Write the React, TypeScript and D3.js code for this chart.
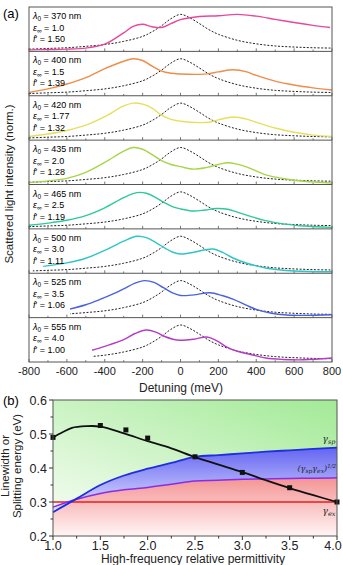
import React from 'react';
import * as d3 from 'd3';

// ---- panel (a): scattering spectra ----
const lambdas = ['370', '400', '420', '435', '465', '500', '525', '555'];
const epsInf = ['1.0', '1.5', '1.77', '2.0', '2.5', '3.0', '3.5', '4.0'];
const fPrime = ['1.50', '1.39', '1.32', '1.28', '1.19', '1.11', '1.06', '1.00'];
const lineColors = ['#e8489c', '#ef8c4a', '#e6df5c', '#a5d647', '#2ec99b', '#2fc4c6', '#4a62e0', '#b43cc6'];
const dashStart = [-800, -800, -800, -800, -800, -780, -583, -467];
const detuningTicks = [-800, -600, -400, -200, 0, 200, 400, 600, 800];

const s370 = [[-800, 0.0], [-700, 0.01], [-600, 0.02], [-500, 0.05], [-400, 0.16], [-300, 0.48], [-250, 0.66], [-200, 0.72], [-150, 0.65], [-100, 0.63], [-50, 0.74], [0, 0.85], [100, 0.94], [200, 0.96], [300, 1.0], [400, 0.95], [500, 0.86], [600, 0.77], [700, 0.69], [790, 0.63]];
const s400 = [[-800, 0.05], [-700, 0.15], [-600, 0.29], [-500, 0.47], [-400, 0.72], [-300, 0.93], [-250, 1.0], [-200, 0.95], [-150, 0.79], [-100, 0.65], [-50, 0.59], [0, 0.57], [100, 0.56], [150, 0.58], [200, 0.63], [280, 0.69], [350, 0.63], [400, 0.53], [500, 0.37], [600, 0.26], [700, 0.18], [800, 0.12]];
const s420 = [[-800, 0.06], [-700, 0.13], [-600, 0.23], [-500, 0.38], [-400, 0.62], [-300, 0.92], [-250, 1.0], [-200, 0.97], [-150, 0.86], [-100, 0.66], [-50, 0.54], [0, 0.49], [100, 0.45], [150, 0.46], [200, 0.53], [280, 0.61], [350, 0.55], [400, 0.46], [500, 0.3], [600, 0.18], [700, 0.1], [800, 0.06]];
const s435 = [[-800, 0.01], [-700, 0.06], [-600, 0.13], [-500, 0.3], [-400, 0.58], [-300, 0.9], [-250, 1.0], [-200, 0.95], [-150, 0.8], [-100, 0.63], [-50, 0.52], [0, 0.46], [70, 0.39], [140, 0.44], [200, 0.52], [250, 0.57], [300, 0.53], [355, 0.44], [450, 0.23], [550, 0.12], [650, 0.05], [800, 0.0]];
const s465 = [[-800, 0.06], [-700, 0.12], [-600, 0.2], [-500, 0.33], [-400, 0.55], [-300, 0.84], [-230, 0.98], [-180, 0.96], [-130, 0.84], [-80, 0.68], [-40, 0.58], [0, 0.52], [70, 0.46], [130, 0.49], [190, 0.53], [250, 0.51], [300, 0.43], [370, 0.31], [450, 0.19], [540, 0.1], [650, 0.04], [800, 0.0]];
const s500 = [[-725, 0.15], [-600, 0.25], [-500, 0.38], [-400, 0.6], [-300, 0.86], [-230, 1.0], [-180, 0.96], [-130, 0.82], [-80, 0.66], [-40, 0.55], [0, 0.5], [70, 0.55], [130, 0.62], [172, 0.64], [220, 0.55], [280, 0.38], [350, 0.24], [455, 0.1], [600, 0.02], [800, 0.0]];
const s525 = [[-583, 0.2], [-500, 0.32], [-425, 0.47], [-350, 0.64], [-300, 0.77], [-240, 0.93], [-190, 1.0], [-140, 0.95], [-90, 0.8], [-40, 0.65], [0, 0.58], [70, 0.6], [155, 0.66], [220, 0.58], [280, 0.47], [350, 0.3], [400, 0.19], [480, 0.08], [560, 0.03], [650, 0.02], [800, 0.04]];
const s555 = [[-467, 0.29], [-400, 0.4], [-303, 0.58], [-240, 0.76], [-180, 0.86], [-130, 0.8], [-90, 0.69], [-40, 0.6], [0, 0.57], [70, 0.6], [140, 0.66], [190, 0.56], [245, 0.38], [300, 0.26], [370, 0.17], [450, 0.07], [540, 0.03], [650, 0.02], [800, 0.07]];
const spectra = [s370, s400, s420, s435, s465, s500, s525, s555];

// uncoupled exciton (dashed)
const exciton = [[-800, 0.02], [-700, 0.04], [-600, 0.06], [-500, 0.1], [-400, 0.15], [-300, 0.24], [-200, 0.38], [-150, 0.51], [-100, 0.68], [-50, 0.88], [0, 1.0], [50, 0.9], [100, 0.74], [150, 0.57], [200, 0.44], [300, 0.27], [400, 0.17], [500, 0.11], [600, 0.08], [700, 0.06], [800, 0.05]];

// ---- panel (b): linewidths / splitting ----
const permittivity = [1.0, 1.25, 1.5, 1.75, 2.0, 2.25, 2.5, 2.75, 3.0, 3.25, 3.5, 3.75, 4.0];
const gammaSp = [0.27, 0.31, 0.35, 0.378, 0.398, 0.415, 0.433, 0.438, 0.443, 0.448, 0.452, 0.456, 0.46];
const gammaMean = [0.285, 0.308, 0.325, 0.336, 0.343, 0.352, 0.362, 0.364, 0.367, 0.368, 0.369, 0.37, 0.371];
const gammaEx = 0.3;
const fitEps = [1.0, 1.1, 1.2, 1.35, 1.5, 1.75, 2.0, 2.25, 2.5, 2.75, 3.0, 3.25, 3.5, 3.75, 4.0];
const fitSplit = [0.49, 0.505, 0.518, 0.523, 0.522, 0.502, 0.479, 0.458, 0.432, 0.41, 0.388, 0.364, 0.341, 0.32, 0.3];
const measEps = [1.0, 1.5, 1.77, 2.0, 2.5, 3.0, 3.5, 4.0];
const measSplit = [0.49, 0.525, 0.512, 0.488, 0.433, 0.387, 0.342, 0.3];
const epsTicks = [1.0, 1.5, 2.0, 2.5, 3.0, 3.5, 4.0];
const energyTicks = [0.2, 0.3, 0.4, 0.5, 0.6];

const FONT = 'Liberation Sans, Arial, sans-serif';

export default function App() {
  const xA = d3.scaleLinear().domain([-800, 800]).range([29, 332]);
  const band = d3.scaleBand<number>().domain(d3.range(8)).range([7, 362]);
  const h = band.bandwidth();

  const xB = d3.scaleLinear().domain([1, 4]).range([53, 337]);
  const yB = d3.scaleLinear().domain([0.2, 0.6]).range([536, 400]);

  const curve = d3.curveCatmullRom.alpha(0.5);
  const idx = d3.range(permittivity.length);
  const areaGreen = d3.area<number>().x(i => xB(permittivity[i])).y0(yB(0.6)).y1(i => yB(gammaSp[i])).curve(d3.curveMonotoneX);
  const areaBlue = d3.area<number>().x(i => xB(permittivity[i])).y0(i => yB(gammaMean[i])).y1(i => yB(gammaSp[i])).curve(d3.curveMonotoneX);
  const areaRed = d3.area<number>().x(i => xB(permittivity[i])).y0(yB(0.2)).y1(i => yB(gammaMean[i])).curve(d3.curveMonotoneX);
  const lineSp = d3.line<number>().x(i => xB(permittivity[i])).y(i => yB(gammaSp[i])).curve(d3.curveMonotoneX);
  const lineMean = d3.line<number>().x(i => xB(permittivity[i])).y(i => yB(gammaMean[i])).curve(d3.curveMonotoneX);
  const lineFit = d3.line<number>().x(i => xB(fitEps[i])).y(i => yB(fitSplit[i])).curve(curve);

  const minorA = d3.range(-700, 800, 200);
  const minorEps = d3.range(1.25, 4, 0.5);
  const minorE = d3.range(0.25, 0.6, 0.1);

  return (
    <svg width={343} height={565} style={{ position: 'absolute', left: 0, top: 0 }} fontFamily={FONT}>
      <defs>
        {d3.range(8).map(i => (
          <clipPath key={i} id={`dc${i}`}>
            <rect x={xA(dashStart[i])} y={band(i)!} width={332 - xA(dashStart[i])} height={h} />
          </clipPath>
        ))}
        <linearGradient id="gGreen" x1="0" y1="1" x2="1" y2="0">
          <stop offset="0" stopColor="#f3fcf0" />
          <stop offset="1" stopColor="#a2ea96" />
        </linearGradient>
        <linearGradient id="gBlue" x1="0" y1="0" x2="0" y2="1">
          <stop offset="0" stopColor="#6464f2" />
          <stop offset="1" stopColor="#e4e4ff" />
        </linearGradient>
        <linearGradient id="gRed" x1="0" y1="0" x2="0" y2="1">
          <stop offset="0" stopColor="#f49494" />
          <stop offset="1" stopColor="#fff5f5" />
        </linearGradient>
      </defs>

      {/* ---------- (a) ---------- */}
      <text x={3} y={18} fontSize={13}>(a)</text>
      {d3.range(8).map(i => {
        const top = band(i)!;
        const bottom = top + h;
        const y = d3.scaleLinear().domain([0, 1]).range([bottom - 1.5, bottom - 37]);
        const line = d3.line<number[]>().x(d => xA(d[0])).y(d => y(d[1])).curve(curve);
        return (
          <g key={i}>
            {detuningTicks.map(t => (
              <line key={t} x1={xA(t)} x2={xA(t)} y1={bottom} y2={bottom - 3} stroke="#555" strokeWidth={0.8} />
            ))}
            {minorA.map(t => (
              <line key={t} x1={xA(t)} x2={xA(t)} y1={bottom} y2={bottom - 1.8} stroke="#555" strokeWidth={0.8} />
            ))}
            <path d={line(exciton) || ''} fill="none" stroke="#222" strokeWidth={1} strokeDasharray="2,1.6" clipPath={`url(#dc${i})`} />
            <path d={line(spectra[i]) || ''} fill="none" stroke={lineColors[i]} strokeWidth={1.4} />
            <text x={33} y={top + 12} fontSize={9}>
              <tspan fontStyle="italic">λ</tspan>
              <tspan fontSize={6.5} dy={2}>0</tspan>
              <tspan dy={-2}>{` = ${lambdas[i]} nm`}</tspan>
            </text>
            <text x={33} y={top + 23.5} fontSize={9}>
              <tspan fontStyle="italic">ε</tspan>
              <tspan fontSize={6.5} dy={2}>∞</tspan>
              <tspan dy={-2}>{` = ${epsInf[i]}`}</tspan>
            </text>
            <text x={33} y={top + 35} fontSize={9}>
              <tspan fontStyle="italic">f</tspan>
              <tspan>{`′ = ${fPrime[i]}`}</tspan>
            </text>
            {i < 7 && <line x1={29} x2={332} y1={bottom} y2={bottom} stroke="#555" strokeWidth={1} />}
          </g>
        );
      })}
      <rect x={29} y={7} width={303} height={355} fill="none" stroke="#555" strokeWidth={1} />
      {detuningTicks.map(t => (
        <text key={t} x={xA(t)} y={375} fontSize={11} textAnchor="middle" fill="#222">{t}</text>
      ))}
      <text x={181} y={392} fontSize={12} textAnchor="middle" fill="#222">Detuning (meV)</text>
      <text transform="translate(13,184) rotate(-90)" fontSize={11.5} textAnchor="middle" fill="#222">
        Scattered light intensity (norm.)
      </text>

      {/* ---------- (b) ---------- */}
      <path d={areaGreen(idx) || ''} fill="url(#gGreen)" />
      <path d={areaRed(idx) || ''} fill="url(#gRed)" />
      <path d={areaBlue(idx) || ''} fill="url(#gBlue)" />
      <line x1={xB(1)} x2={xB(4)} y1={yB(gammaEx)} y2={yB(gammaEx)} stroke="#ee1c1c" strokeWidth={1.5} />
      <path d={lineMean(idx) || ''} fill="none" stroke="#8a2be8" strokeWidth={1.5} />
      <path d={lineSp(idx) || ''} fill="none" stroke="#1f2ee0" strokeWidth={1.8} />
      <path d={lineFit(d3.range(fitEps.length)) || ''} fill="none" stroke="#111" strokeWidth={1.8} />
      {measEps.map((e, i) => (
        <rect key={i} x={xB(e) - 2.5} y={yB(measSplit[i]) - 2.5} width={5} height={5} fill="#111" />
      ))}
      <text x={329} y={442} fontSize={9} fontFamily="DejaVu Serif, serif" fontStyle="italic" textAnchor="middle" fill="#222">
        γ<tspan fontSize={6.5} dy={2}>sp</tspan>
      </text>
      <text x={336} y={471} fontSize={8} fontFamily="DejaVu Serif, serif" fontStyle="italic" textAnchor="end" fill="#222">
        (γ<tspan fontSize={6} dy={2}>sp</tspan><tspan dy={-2}>γ</tspan><tspan fontSize={6} dy={2}>ex</tspan><tspan dy={-2}>)</tspan><tspan fontSize={5.5} dy={-3}>1/2</tspan>
      </text>
      <text x={329} y={514} fontSize={9} fontFamily="DejaVu Serif, serif" fontStyle="italic" textAnchor="middle" fill="#222">
        γ<tspan fontSize={6.5} dy={2}>ex</tspan>
      </text>
      <rect x={53} y={400} width={284} height={136} fill="none" stroke="#555" strokeWidth={1} />
      {energyTicks.map(t => (
        <g key={t}>
          <line x1={53} x2={49} y1={yB(t)} y2={yB(t)} stroke="#333" />
          <text x={47} y={yB(t) + 4.5} fontSize={12.5} textAnchor="end" fill="#222">{t.toFixed(1)}</text>
        </g>
      ))}
      {minorE.map(t => (
        <line key={t} x1={53} x2={50.5} y1={yB(t)} y2={yB(t)} stroke="#333" />
      ))}
      {epsTicks.map(t => (
        <g key={t}>
          <line x1={xB(t)} x2={xB(t)} y1={536} y2={540} stroke="#333" />
          <text x={Math.min(xB(t), 333)} y={550} fontSize={12.5} textAnchor="middle" fill="#222">{t.toFixed(1)}</text>
        </g>
      ))}
      {minorEps.map(t => (
        <line key={t} x1={xB(t)} x2={xB(t)} y1={536} y2={538.5} stroke="#333" />
      ))}
      <text x={3} y={405} fontSize={13}>(b)</text>
      <text x={193} y={563} fontSize={12} textAnchor="middle" fill="#222">High-frequency relative permittivity</text>
      <text transform="translate(9,466) rotate(-90)" fontSize={11.5} textAnchor="middle" fill="#222">Linewidth or</text>
      <text transform="translate(21,466) rotate(-90)" fontSize={11.5} textAnchor="middle" fill="#222">Splitting energy (eV)</text>
    </svg>
  );
}
